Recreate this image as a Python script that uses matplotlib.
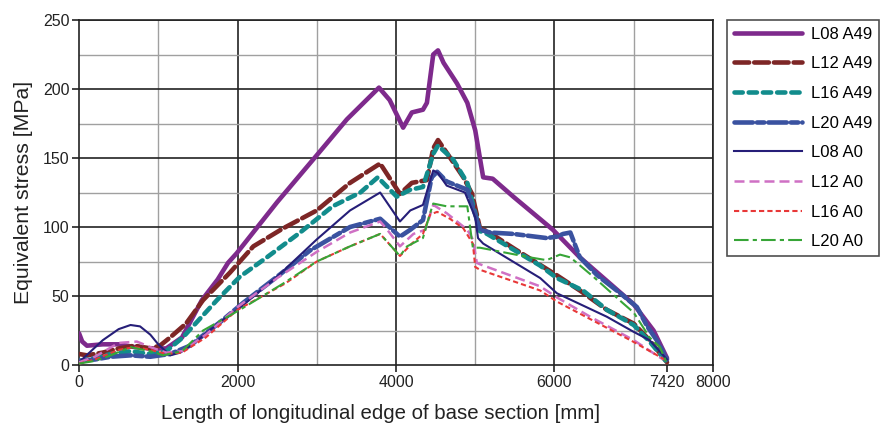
import numpy as np
import matplotlib.pyplot as plt

plt.rcParams['font.family'] = ['Liberation Sans', 'DejaVu Sans']

# --- data (x in mm, y in MPa) ---
x_l08_a49 = [0, 40, 100, 300, 500, 700, 900, 1100, 1300, 1550, 1750, 1880, 1990, 2500, 3000, 3380,
             3785, 3920, 4090, 4200, 4340, 4390, 4470, 4530, 4600, 4770, 4900, 5000, 5100, 5220,
             5480, 5980, 6320, 6740, 7000, 7250, 7420]
y_l08_a49 = [23, 17, 14, 15, 15, 13, 12, 12, 20, 47, 62, 74, 81, 118, 152, 178,
             201, 192, 172, 183, 185, 190, 225, 228, 219, 204, 190, 170, 136, 135,
             122, 98, 78, 57, 44, 25, 5]

x_l12_a49 = [0, 100, 300, 500, 700, 900, 1020, 1150, 1350, 1565, 1905, 2200, 2575, 3000, 3420,
             3800, 4050, 4200, 4390, 4470, 4530, 4650, 4850, 4960, 5060, 5150, 5500, 6030, 6320,
             6660, 7000, 7200, 7420]
y_l12_a49 = [8, 7, 9, 12, 14, 12, 14, 20, 30, 47, 67, 86, 99, 112, 132,
             146, 124, 132, 134, 157, 163, 153, 136, 124, 99, 97, 84, 65, 54,
             40, 30, 18, 2]

x_l16_a49 = [0, 200, 400, 650, 900, 1100, 1310, 1740, 2030, 2370, 2790, 3200, 3550, 3770, 4010,
             4180, 4340, 4470, 4530, 4720, 4900, 5060, 5150, 5500, 5820, 6030, 6360, 6660, 7000,
             7200, 7420]
y_l16_a49 = [3, 5, 8, 10, 8, 10, 20, 47, 64, 78, 96, 115, 125, 136, 122,
             127, 129, 153, 159, 149, 132, 97, 95, 83, 72, 63, 54, 40, 29,
             17, 2]

x_l20_a49 = [0, 200, 400, 650, 900, 1150, 1400, 1800, 2070, 2500, 2915, 3420, 3800, 4050, 4180,
             4340, 4450, 4520, 4640, 4900, 5060, 5190, 5480, 5900, 6030, 6110, 6200, 6320, 6540,
             6830, 7040, 7170, 7290, 7420]
y_l20_a49 = [3, 4, 6, 7, 6, 8, 14, 32, 45, 64, 83, 100, 106, 93, 98,
             105, 136, 140, 133, 127, 98, 96, 95, 92, 93, 95, 96, 78, 65,
             52, 42, 28, 18, 4]

x_l08_a0 = [0, 300, 500, 650, 770, 900, 1000, 1150, 1280, 1500, 1750, 2000, 2500, 3000, 3420,
            3800, 4050, 4180, 4340, 4470, 4530, 4640, 4870, 5000, 5035, 5100, 5820, 6030, 6660,
            7000, 7200, 7420]
y_l08_a0 = [2, 18, 26, 29, 28, 22, 15, 7, 9, 18, 30, 40, 64, 91, 112,
            125, 104, 112, 116, 141, 139, 130, 125, 107, 92, 88, 63, 52, 35,
            24, 18, 4]

x_l12_a0 = [0, 200, 500, 730, 900, 1100, 1300, 1600, 2000, 2500, 3000, 3420, 3800, 3890, 4050,
            4220, 4370, 4470, 4640, 4900, 4970, 5020, 5060, 5820, 6030, 6450, 7000, 7370]
y_l12_a0 = [2, 6, 16, 17, 13, 9, 10, 22, 42, 63, 82, 96, 104, 98, 86,
            95, 98, 116, 110, 98, 91, 74, 73, 57, 49, 35, 18, 4]

x_l16_a0 = [0, 200, 500, 700, 900, 1100, 1300, 1600, 2000, 2600, 3000, 3420, 3800, 4050, 4200,
            4340, 4430, 4520, 4680, 4850, 4970, 5000, 5060, 5820, 6030, 6990, 7420]
y_l16_a0 = [1, 4, 11, 13, 11, 8, 9, 20, 40, 59, 75, 86, 95, 79, 88,
            95, 109, 111, 106, 99, 88, 71, 69, 54, 46, 17, 3]

x_l20_a0 = [0, 200, 400, 650, 900, 1060, 1300, 1565, 2030, 2575, 3000, 3420, 3800, 4050, 4140,
            4340, 4430, 4470, 4640, 4900, 4970, 5060, 5690, 5900, 6070, 6200, 6490, 6860, 7000,
            7200, 7330, 7420]
y_l20_a0 = [1, 3, 7, 13, 10, 7, 10, 25, 40, 59, 75, 86, 95, 79, 86,
            92, 110, 117, 115, 115, 85, 85, 78, 76, 80, 78, 64, 45, 38,
            20, 13, 1]

x_ticks = [0, 2000, 4000, 6000, 7420, 8000]
y_ticks = [0, 50, 100, 150, 200, 250]

fig = plt.figure(figsize=(8.8, 4.33), dpi=100)
ax = fig.add_axes([0.0898, 0.157, 0.7204, 0.7968])

# grid: light every 1000 mm / 25 MPa, dark every 2000 mm / 50 MPa
for gx in range(1000, 8000, 2000):
    ax.axvline(gx, color='#a0a0a0', lw=1.0, zorder=0)
for gx in range(2000, 8001, 2000):
    ax.axvline(gx, color='#222222', lw=1.2, zorder=0)
for gy in range(25, 250, 50):
    ax.axhline(gy, color='#a0a0a0', lw=1.0, zorder=0)
for gy in range(50, 251, 50):
    ax.axhline(gy, color='#222222', lw=1.2, zorder=0)

ax.plot(x_l08_a49, y_l08_a49, color='#7e2a8c', lw=3.3, ls='-', label='L08 A49', zorder=3,
        solid_capstyle='round', solid_joinstyle='round')
ax.plot(x_l12_a49, y_l12_a49, color='#7d2626', lw=3.3, ls=(0, (3.2, 1.1)), label='L12 A49',
        zorder=3, dash_capstyle='round')
ax.plot(x_l16_a49, y_l16_a49, color='#128c8c', lw=3.3, ls=(0, (1.8, 1.3)), label='L16 A49',
        zorder=3, dash_capstyle='round')
ax.plot(x_l20_a49, y_l20_a49, color='#3a52a0', lw=3.3, ls=(0, (4, 0.9, 1.6, 0.9)), label='L20 A49',
        zorder=3, dash_capstyle='round')
ax.plot(x_l08_a0, y_l08_a0, color='#261e78', lw=1.5, ls='-', label='L08 A0', zorder=4)
ax.plot(x_l12_a0, y_l12_a0, color='#cf70c4', lw=1.8, ls=(0, (4, 2)), label='L12 A0', zorder=4)
ax.plot(x_l16_a0, y_l16_a0, color='#e83838', lw=1.5, ls=(0, (2.5, 1.5)), label='L16 A0', zorder=4)
ax.plot(x_l20_a0, y_l20_a0, color='#37a537', lw=1.5, ls=(0, (7, 2, 2, 2)), label='L20 A0', zorder=4)

ax.set_xlim(0, 8000)
ax.set_ylim(0, 250)
ax.set_xticks(x_ticks)
ax.set_yticks(y_ticks)
ax.tick_params(direction='out', length=5, width=1.2, color='#222222', labelsize=11.5,
               labelcolor='#222222', pad=2)
for s in ax.spines.values():
    s.set_color('#222222')
    s.set_linewidth(1.2)

ax.set_xlabel('Length of longitudinal edge of base section [mm]', fontsize=14.7, color='#222222')
ax.xaxis.set_label_coords(0.475, -0.113)
ax.set_ylabel('Equivalent stress [MPa]', fontsize=15.3, color='#222222', labelpad=7)

leg = fig.legend(loc='upper left', bbox_to_anchor=(727 / 880, 1 - 20 / 433), fontsize=12,
                 frameon=True, fancybox=False, edgecolor='#222222', handlelength=4.1,
                 labelspacing=0.88, borderpad=0.4, borderaxespad=0, handletextpad=0.55)
leg.get_frame().set_linewidth(1.2)

fig.savefig('out.png', dpi=100)
